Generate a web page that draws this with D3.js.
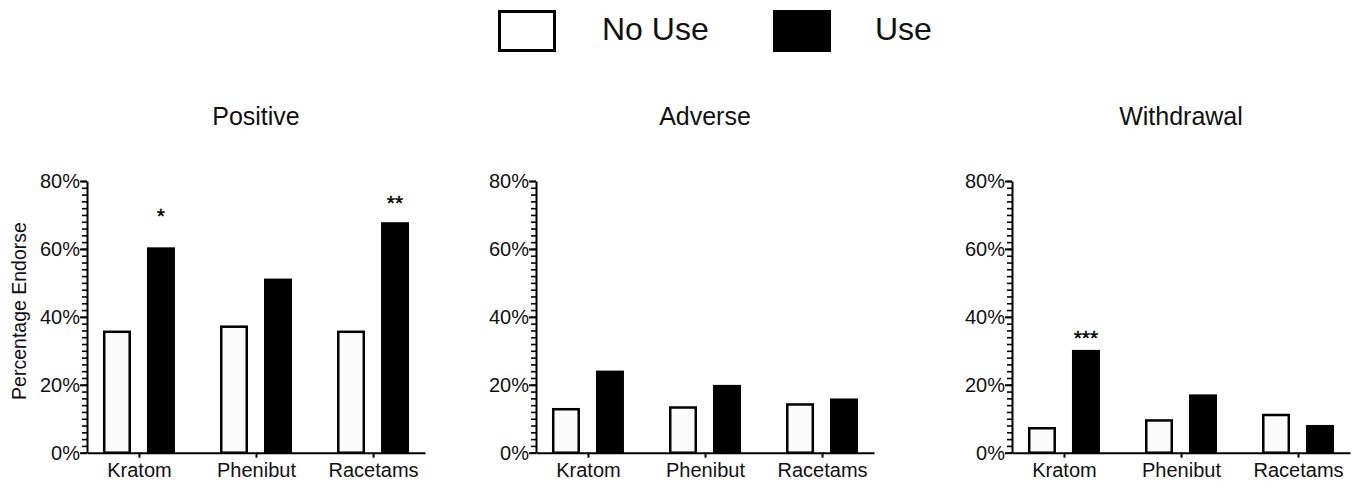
<!DOCTYPE html>
<html>
<head>
<meta charset="utf-8">
<script src="https://cdn.jsdelivr.net/npm/d3@7"></script>
<style>
  html, body { margin: 0; padding: 0; background: #fff; }
  svg { display: block; font-family: "Liberation Sans", Arial, Helvetica, sans-serif; }
</style>
</head>
<body>
<svg id="chart" width="1365" height="483"></svg>
<script>
// ---- data ----
const categories = ["Kratom", "Phenibut", "Racetams"];
const panelTitles = ["Positive", "Adverse", "Withdrawal"];
const seriesNames = ["No Use", "Use"];
const noUsePositive = [35.6, 37.1, 35.6];
const usePositive = [60.1, 50.9, 67.5];
const noUseAdverse = [12.8, 13.3, 14.2];
const useAdverse = [23.8, 19.6, 15.6];
const noUseWithdrawal = [7.2, 9.5, 11.1];
const useWithdrawal = [29.9, 16.8, 7.8];
const yTickValues = [0, 20, 40, 60, 80];
const yLabel = "Percentage Endorse";
// significance marks: panel index, category, label, value level (%)
const sigPanel = [0, 0, 2];
const sigCategory = ["Kratom", "Racetams", "Kratom"];
const sigLabel = ["*", "**", "***"];
const sigLevel = [67.6, 71.6, 31.8];

const noUseData = [noUsePositive, noUseAdverse, noUseWithdrawal];
const useData = [usePositive, useAdverse, useWithdrawal];

// ---- layout ----
const svg = d3.select("#chart");
const panelX = [87, 536, 1012];
const panelW = 338;
const yTop = 181, yBottom = 452.7;

const y = d3.scaleLinear().domain([0, 80]).range([yBottom, yTop]);
const sub = d3.scaleBand().domain(seriesNames).range([-36, 36]).paddingInner(1 - 28 / 44).paddingOuter(0);
const fills = { "No Use": "#fbfbfb", "Use": "#000" };

panelTitles.forEach((title, p) => {
  const x0 = panelX[p];
  const x = d3.scalePoint().domain(categories).range([x0, x0 + panelW]).padding(0.444);
  const g = svg.append("g");

  // bars
  const rows = [];
  categories.forEach((c, i) => {
    rows.push({ c, s: "No Use", v: noUseData[p][i] });
    rows.push({ c, s: "Use", v: useData[p][i] });
  });
  g.selectAll("rect.bar").data(rows).join("rect")
    .attr("class", "bar")
    .attr("x", d => x(d.c) + sub(d.s) + 1.25)
    .attr("width", sub.bandwidth() - 2.5)
    .attr("y", d => y(d.v))
    .attr("height", d => y(0) - y(d.v))
    .attr("fill", d => fills[d.s])
    .attr("stroke", "#000")
    .attr("stroke-width", 2.5);

  // minor y ticks
  const minor = g.append("g").attr("transform", `translate(${x0},0)`)
    .call(d3.axisLeft(y).tickValues(d3.range(0, 81, 2)).tickSize(5).tickSizeOuter(0).tickFormat(""));
  minor.select(".domain").remove();
  minor.selectAll("line").attr("stroke", "#000").attr("stroke-width", 1.6);

  // major y axis
  const ya = g.append("g").attr("transform", `translate(${x0},0)`)
    .call(d3.axisLeft(y).tickValues(yTickValues).tickSize(7).tickSizeOuter(0).tickPadding(0).tickFormat(d => d + "%"));
  ya.select(".domain").attr("stroke", "#000").attr("stroke-width", 2);
  ya.selectAll("line").attr("stroke", "#000").attr("stroke-width", 2);
  ya.selectAll("text").attr("font-size", 20).attr("fill", "#111")
    .attr("font-family", "'Liberation Sans', Arial, sans-serif");

  // x axis
  const xa = g.append("g").attr("transform", `translate(0,${yBottom})`)
    .call(d3.axisBottom(x).tickSize(5).tickSizeOuter(0).tickPadding(5));
  xa.select(".domain").attr("stroke", "#000").attr("stroke-width", 2);
  xa.selectAll("line").attr("stroke", "#000").attr("stroke-width", 2);
  xa.selectAll("text").attr("font-size", 20).attr("fill", "#111")
    .attr("font-family", "'Liberation Sans', Arial, sans-serif");

  // title
  g.append("text")
    .attr("x", x0 + panelW / 2).attr("y", 125)
    .attr("text-anchor", "middle").attr("font-size", 25).attr("fill", "#111")
    .text(title);

  // significance marks
  sigPanel.forEach((sp, k) => {
    if (sp !== p) return;
    g.append("text")
      .attr("x", x(sigCategory[k]) + sub("Use") + sub.bandwidth() / 2)
      .attr("y", y(sigLevel[k]))
      .attr("text-anchor", "middle").attr("font-size", 21).attr("fill", "#000")
      .attr("stroke", "#000").attr("stroke-width", 0.4)
      .text(sigLabel[k]);
  });
});

// y label
svg.append("text")
  .attr("transform", `translate(26,311) rotate(-90)`)
  .attr("text-anchor", "middle").attr("font-size", 19.5).attr("fill", "#111")
  .text(yLabel);

// legend
const legendX = [498, 773];
const legendTextX = [602, 875];
seriesNames.forEach((s, i) => {
  svg.append("rect")
    .attr("x", legendX[i] + 1.5).attr("y", 11.5)
    .attr("width", 55).attr("height", 39)
    .attr("fill", s === "Use" ? "#000" : "#fff")
    .attr("stroke", "#000").attr("stroke-width", 3);
  svg.append("text")
    .attr("x", legendTextX[i]).attr("y", 40)
    .attr("font-size", 32).attr("fill", "#111")
    .text(s);
});
</script>
</body>
</html>
